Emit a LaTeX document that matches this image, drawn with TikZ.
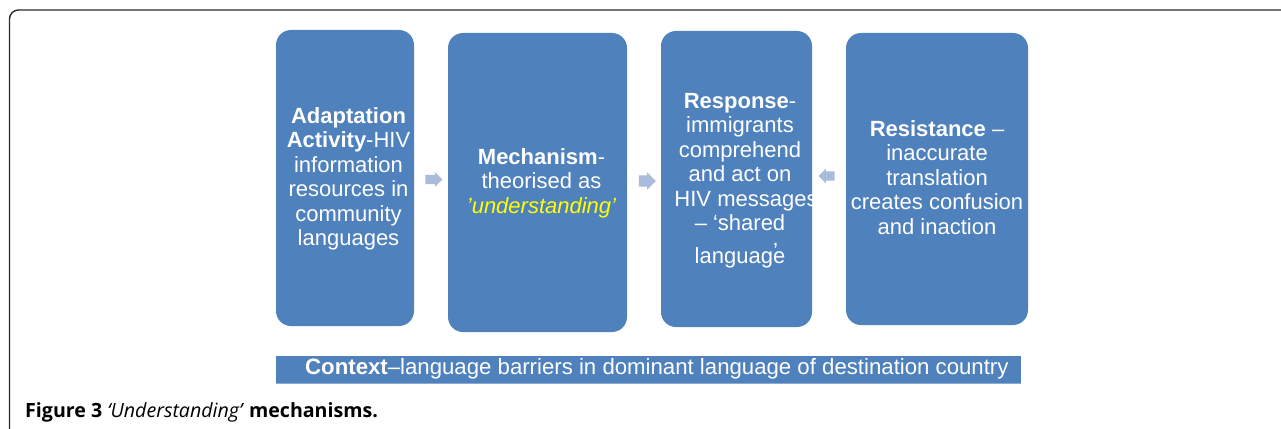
\documentclass[tikz,border=0pt]{standalone}
\usepackage{fontspec}
\setmainfont{Liberation Sans}
\newfontfamily\capfont{Open Sans}
\usetikzlibrary{shapes.arrows}
\definecolor{boxblue}{HTML}{4F81BD}
\definecolor{arrowblue}{HTML}{A9BCDB}
\definecolor{edgeblue}{HTML}{8EA9D3}
\definecolor{hiyellow}{HTML}{FFFF00}
\definecolor{framegray}{HTML}{2A2A2A}
\tikzset{
  stagebox/.style={rectangle, rounded corners=15pt, fill=boxblue, draw=none, inner sep=0pt},
  stagetext/.style={text=white, align=center, inner sep=0pt,
    font=\fontsize{22}{24.5}\selectfont},
  flowarrow/.style={single arrow, fill=arrowblue, draw=none,
    text height=0pt, text depth=0pt, text width=0pt, inner xsep=0pt},
  contextbar/.style={rectangle, fill=boxblue, draw=none, inner sep=0pt,
    minimum width=745pt, minimum height=28pt},
}
\begin{document}
\begin{tikzpicture}[x=1pt,y=-1pt]
\useasboundingbox (0,0) rectangle (1281,428);
% outer frame
\draw[framegray, line width=1.4pt, rounded corners=9pt] (9.5,430) -- (9.5,10) -- (1283,10);
% stage boxes
\node[stagebox, minimum width=138pt, minimum height=296pt] (adapt) at (345,178) {};
\node[stagetext] (adapttext) at (348.5,179)
  {\textbf{Adaptation}\\ \textbf{Activity}-HIV\\ information\\ resources in\\ community\\ languages};
\node[stagebox, minimum width=179pt, minimum height=299pt] (mech) at (537.5,182.5) {};
\node[stagetext] (mechtext) at (541.5,183)
  {\textbf{Mechanism}-\\ theorised as\\ \textcolor{hiyellow}{\itshape ’understanding’}};
\node[stagebox, minimum width=151pt, minimum height=296pt] (resp) at (736.5,179) {};
\node[stagetext, anchor=north] (resptext) at (740,93)
  {\textbf{Response}-\\ immigrants\\ comprehend\\ and act on\\ \hspace*{12pt}HIV messages\\ – ‘shared\\[8.5pt] languag\rlap{\smash{\raisebox{5pt}{’}}}e};
\node[stagebox, minimum width=182pt, minimum height=292pt] (resist) at (937,179) {};
\node[stagetext] (resisttext) at (937,177.5)
  {\textbf{Resistance} –\\ inaccurate\\ translation\\ creates confusion\\ and inaction};
% flow arrows
\node[flowarrow, inner ysep=4.5pt, minimum height=17pt, single arrow head extend=2.5pt] (a1) at (431.5,179.5) {};
\node[flowarrow, inner ysep=5.5pt, minimum height=17pt, single arrow head extend=3pt] (a2) at (644.5,181) {};
\node[flowarrow, inner ysep=4.5pt, minimum height=16pt, single arrow head extend=2.5pt, shape border rotate=180] (a3) at (829,176) {};
% context bar
\node[contextbar] (ctx) at (648.5,369.5) {};
\draw[edgeblue, line width=1.2pt] (ctx.south west) -- (ctx.south east);
\node[anchor=west, text=white, inner sep=0pt, font=\fontsize{22.2}{24}\selectfont] (ctxtext) at (305,369)
  {\textbf{Context}–language barriers in dominant language of destination country};
% caption
\node[anchor=base west, inner sep=0pt, font=\capfont\fontsize{19.6}{22}\selectfont] (cap) at (25,417.5)
  {\textbf{Figure 3} {\itshape ‘Understanding’} \textbf{mechanisms.}};
\end{tikzpicture}
\end{document}
